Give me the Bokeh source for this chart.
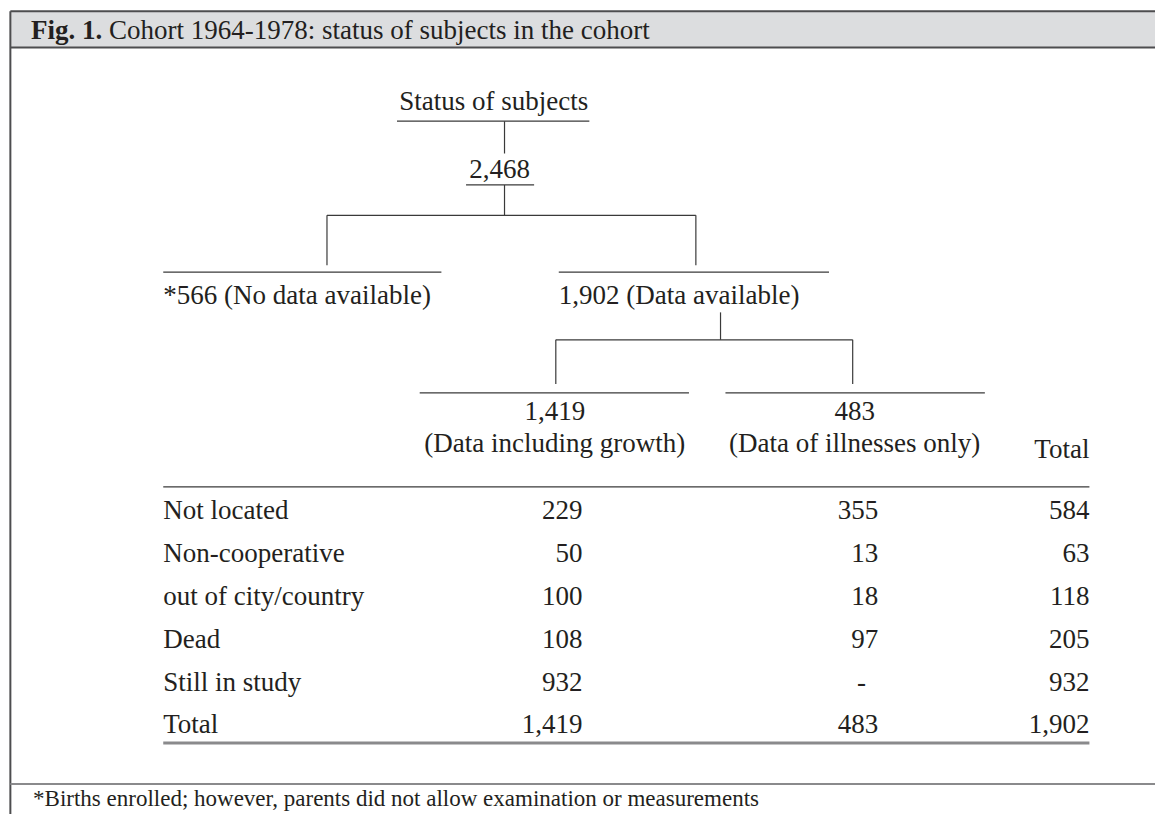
from bokeh.plotting import figure
from bokeh.models import Range1d, ColumnDataSource
from bokeh.core.properties import value
from bokeh.embed import file_html
from bokeh.resources import INLINE

# ---------------- data ----------------
title_bold = "Fig. 1."
title_rest = "Cohort 1964-1978: status of subjects in the cohort"
root_label = "Status of subjects"
root_total = 2468
no_data_total = 566
no_data_label = "(No data available)"
data_total = 1902
data_label = "(Data available)"
group_labels = ["(Data including growth)", "(Data of illnesses only)"]
group_totals = [1419, 483]
total_header = "Total"

row_labels = ["Not located", "Non-cooperative", "out of city/country", "Dead", "Still in study", "Total"]
growth_vals = [229, 50, 100, 108, 932, 1419]
illness_vals = [355, 13, 18, 97, None, 483]
total_vals = [584, 63, 118, 205, 932, 1902]
footnote = "*Births enrolled; however, parents did not allow examination or measurements"

# ---------------- layout ----------------
W, H = 1155, 814          # figure size (fits the window with the page margin)
RW, RH = 1171, 830        # layout coordinate space
FONT = value("Liberation Serif")
TXT = "#231f20"
LINE = "#3a3a3a"
FS = "27px"

def fmt(v):
    return "-" if v is None else f"{v:,}"

p = figure(width=W, height=H, x_range=Range1d(0, RW), y_range=Range1d(RH, 0),
           output_backend="svg", toolbar_location=None, min_border=0)
p.axis.visible = False
p.grid.visible = False
p.outline_line_color = None
p.background_fill_color = "white"

# frame
p.quad(left=[10], right=[RW], top=[11], bottom=[48], fill_color="#dcdddf", line_color=None)
p.segment(x0=[10, 10, 10], y0=[11, 48, 11], x1=[RW, RW, 10], y1=[11, 48, RH],
          line_color="#4d4d4f", line_width=2)
p.segment(x0=[10], y0=[799], x1=[RW], y1=[799], line_color="#8a8a8c", line_width=2)

# title
p.text(x=[31], y=[30], text=[title_bold], text_font=FONT, text_font_style="bold",
       text_font_size=FS, text_color=TXT, text_baseline="middle", text_align="left")
p.text(x=[110], y=[30], text=[title_rest], text_font=FONT,
       text_font_size=FS, text_color=TXT, text_baseline="middle", text_align="left")

# tree lines
seg = dict(
    x0=[402, 511, 472, 511, 331, 331, 705, 165, 566, 730, 563, 563, 864, 425, 735],
    y0=[123, 123, 188, 188, 219, 219, 219, 277, 277, 318, 346, 346, 346, 400, 400],
    x1=[597, 511, 541, 511, 705, 331, 705, 447, 840, 730, 864, 563, 864, 698, 998],
    y1=[123, 156, 188, 219, 219, 270, 270, 277, 277, 346, 346, 391, 391, 400, 400],
)
p.segment(source=ColumnDataSource(seg), x0="x0", y0="y0", x1="x1", y1="y1",
          line_color=LINE, line_width=1.2)

# tree labels (centered)
ctr = dict(
    x=[500, 506, 562, 562, 866, 866],
    y=[102, 172, 419, 451, 419, 451],
    t=[root_label, fmt(root_total), fmt(group_totals[0]), group_labels[0],
       fmt(group_totals[1]), group_labels[1]],
)
p.text(source=ColumnDataSource(ctr), x="x", y="y", text="t", text_font=FONT,
       text_font_size=FS, text_color=TXT, text_baseline="middle", text_align="center")
p.text(x=[165, 566], y=[300, 300],
       text=[f"*{no_data_total} {no_data_label}", f"{fmt(data_total)} {data_label}"],
       text_font=FONT, text_font_size=FS, text_color=TXT, text_baseline="middle", text_align="left")
p.text(x=[1104], y=[457], text=[total_header], text_font=FONT, text_font_size=FS,
       text_color=TXT, text_baseline="middle", text_align="right")

# table
p.segment(x0=[165], y0=[496], x1=[1104], y1=[496], line_color=LINE, line_width=1.2)
p.segment(x0=[165], y0=[757], x1=[1104], y1=[757], line_color="#8a8a8c", line_width=3)
row_y = [520 + i * 43.6 for i in range(len(row_labels))]
p.text(x=[165] * len(row_labels), y=row_y, text=row_labels, text_font=FONT, text_font_size=FS,
       text_color=TXT, text_baseline="middle", text_align="left")
for xr, vals in ((590, growth_vals), (890, illness_vals), (1104, total_vals)):
    num = [(xr, y, fmt(v)) for v, y in zip(vals, row_y) if v is not None]
    dash = [(xr - 17, y, fmt(v)) for v, y in zip(vals, row_y) if v is None]
    p.text(x=[a[0] for a in num], y=[a[1] for a in num], text=[a[2] for a in num],
           text_font=FONT, text_font_size=FS, text_color=TXT,
           text_baseline="middle", text_align="right")
    if dash:
        p.text(x=[a[0] for a in dash], y=[a[1] for a in dash], text=[a[2] for a in dash],
               text_font=FONT, text_font_size=FS, text_color=TXT,
               text_baseline="middle", text_align="center")

# footnote
p.text(x=[33], y=[814], text=[footnote], text_font=FONT, text_font_size="23px",
       text_color=TXT, text_baseline="middle", text_align="left")

open("out.html", "w").write(file_html(p, INLINE))
